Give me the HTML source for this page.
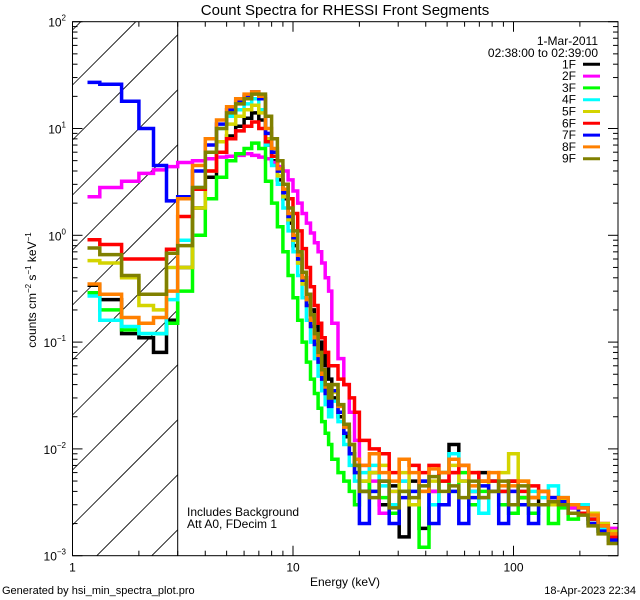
<!DOCTYPE html>
<html><head><meta charset="utf-8"><style>
html,body{margin:0;padding:0;background:#fff;width:640px;height:600px;overflow:hidden;}
svg{display:block;position:absolute;left:0;top:0;font-family:"Liberation Sans",sans-serif;}
script{display:none;}
</style></head><body>
<svg id="chart" width="640" height="600" viewBox="0 0 640 600" xmlns="http://www.w3.org/2000/svg">
<rect width="640" height="600" fill="#fff"/>
<defs><clipPath id="plotclip"><rect x="72.5" y="21.7" width="545.5" height="534"/></clipPath></defs>
<text x="345" y="15" font-size="15" text-anchor="middle">Count Spectra for RHESSI Front Segments</text>
<g id="hatch"></g>
<line x1="177.7" y1="21.7" x2="177.7" y2="555.7" stroke="#000" stroke-width="1"/>
<g id="series" clip-path="url(#plotclip)"></g>
<rect x="72.5" y="21.7" width="545.5" height="534" fill="none" stroke="#000" stroke-width="1"/>
<g id="axes"></g>
<text transform="translate(36,290) rotate(-90)" font-size="12" text-anchor="middle">counts cm<tspan font-size="8" dy="-5">−2</tspan><tspan dy="5"> s</tspan><tspan font-size="8" dy="-5">−1</tspan><tspan dy="5"> keV</tspan><tspan font-size="8" dy="-5">−1</tspan></text>
<text x="345" y="586" font-size="12" text-anchor="middle">Energy (keV)</text>
<text x="598" y="45" font-size="12" text-anchor="end">1-Mar-2011</text>
<text x="598" y="57" font-size="12" text-anchor="end">02:38:00 to 02:39:00</text>
<g id="legend"></g>
<text x="187" y="516" font-size="12">Includes Background</text>
<text x="187" y="528" font-size="12">Att A0, FDecim 1</text>
<text x="2" y="594" font-size="11">Generated by hsi_min_spectra_plot.pro</text>
<text x="636" y="594" font-size="11" text-anchor="end">18-Apr-2023 22:34</text>
</svg>
<script>
const edges=[1.17,1.33,1.67,2,2.33,2.67,3,3.5,4,4.5,5,5.5,6,6.5,7,7.5,8,8.5,9,9.5,10,10.5,11,11.5,12,12.5,13,13.5,14,14.5,15,16,17,18,19,20,22.2,24.6,27.3,30.3,33.6,37.3,41.4,45.9,51,56.5,62.7,69.6,77.2,85.7,95,105,117,130,144,160,177,197,218,242,269,298];
const names=["1F","2F","3F","4F","5F","6F","7F","8F","9F"];
const colors=["#000000","#ff00ff","#00ff00","#00ffff","#d4d400","#ff0000","#0000ff","#ff8000","#808000"];
const s1F=[0.34,0.25,0.12,0.11,0.08,0.16, 0.5,1.8,3.5,6,8.5,10.5,12.5,14,12,7,5,3.3,2.2,1.3,0.8,0.55,0.4,0.28,0.2,0.14,0.1,0.075,0.06,0.045, 0.03,0.02,0.013,0.009,0.007, .004,.006,.003,.0045,.0015,.005,.0018,.004,.006,.011,.005,.004,.006,.005,.004,.005,.0035,.0035,.003,.003,.003,.0028,.0025,.0022,.0018,.0015];
const s2F=[2.3,2.8,3.2,3.8,4.1,4.4, 4.8,5.0,5.2,5.4,5.5,5.6,5.8,5.6,5.4,5.2,4.8,4.4,4.0,3.3,2.6,2.0,1.6,1.3,1.05,0.85,0.7,0.55,0.4,0.3, 0.15,0.07,0.04,0.022,0.012, .007,.005,.0025,.004,.005,.003,.005,.004,.003,.006,.005,.004,.0035,.005,.004,.004,.003,.0035,.004,.003,.0032,.0028,.003,.0025,.002,.0018];
const s3F=[0.29,0.2,0.13,0.12,0.12,0.15, 0.3,1.0,2.2,3.5,5,5.8,6.5,7.3,6.5,3.2,2.0,1.2,0.7,0.42,0.26,0.16,0.1,0.065,0.045,0.033,0.024,0.018,0.014,0.011, 0.008,0.006,0.005,0.004,0.003, .005,.004,.0035,.0025,.004,.003,.0012,.003,.005,.004,.006,.003,.004,.005,.003,.0025,.0035,.0025,.003,.002,.0028,.0022,.0025,.002,.0017,.0014];
const s4F=[0.27,0.16,0.14,0.12,0.12,0.25, 0.9,2.8,6,10,13,15,17,19,15,7,4.5,3,1.8,1.1,0.7,0.42,0.26,0.16,0.1,0.07,0.048,0.035,0.026,0.02, 0.028,0.018,0.011,0.007,0.005, .006,.007,.0045,.003,.005,.004,.005,.003,.006,.009,.005,.004,.0025,.005,.004,.003,.004,.004,.0035,.0045,.0035,.0025,.003,.0022,.0018,.0014];
const s5F=[0.58,0.55,0.4,0.22,0.2,0.5, 0.5,1.8,4,7.5,11,13,15,16.5,14,8,5.5,3.6,2.3,1.4,0.9,0.55,0.35,0.22,0.14,0.095,0.065,0.045,0.034,0.026, 0.034,0.022,0.014,0.009,0.006, .005,.006,.007,.004,.006,.003,.004,.005,.006,.007,.005,.006,.005,.004,.006,.009,.005,.0035,.004,.003,.0033,.003,.0028,.0025,.002,.0017];
const s6F=[0.91,0.82,0.6,0.6,0.6,0.74, 1.5,2.7,4,6,8,9.5,10.5,11.5,10,7.5,5.5,4,3,2.2,1.6,1.1,0.75,0.5,0.33,0.22,0.15,0.11,0.08,0.06, 0.06,0.045,0.04,0.03,0.022, .012,.01,.009,.006,.008,.007,.006,.007,.005,.006,.007,.006,.005,.005,.004,.005,.004,.0045,.004,.0035,.003,.003,.0025,.0022,.0019,.0015];
const s7F=[27,26,18,10,4.5,2.1, 2.3,4,7,11,15,18,20,22,19,9,6,4,2.5,1.5,0.95,0.6,0.38,0.22,0.14,0.095,0.065,0.045,0.033,0.025, 0.035,0.022,0.014,0.009,0.006, .002,.004,.005,.002,.0035,.004,.005,.002,.003,.004,.002,.0035,.0045,.004,.002,.004,.003,.002,.003,.0035,.0032,.0025,.0028,.002,.0017,.0014];
const s8F=[0.35,0.28,0.17,0.15,0.17,0.3, 2.2,4.5,8,12,16,19,21,22,20,10,6.5,4.2,2.7,1.6,1.0,0.65,0.4,0.25,0.16,0.11,0.075,0.05,0.038,0.03, 0.04,0.025,0.016,0.011,0.008, .007,.009,.006,.005,.008,.006,.004,.0065,.006,.008,.007,.0045,.005,.006,.0045,.0045,.005,.0035,.004,.0032,.0035,.003,.0028,.0024,.0019,.0016];
const s9F=[0.76,0.66,0.42,0.28,0.28,0.68, 0.8,2.8,6,10,14,17,19,21,21,13,8,5,3,1.8,1.1,0.7,0.45,0.28,0.18,0.12,0.08,0.055,0.04,0.03, 0.04,0.026,0.017,0.011,0.007, .004,.0035,.005,.0028,.004,.0035,.0045,.0055,.004,.0045,.0035,.005,.0035,.004,.005,.003,.0045,.003,.003,.0032,.003,.0025,.0024,.0019,.0016,.0013];
const seriesData=[s1F,s2F,s3F,s4F,s5F,s6F,s7F,s8F,s9F];
const xTickLabels=["1","10","100"];
const yExps=[2,1,0,-1,-2,-3];

const X0=72.5,XD=220.5,Y0=21.7,YD=106.8,XR=618,YB=555.7,XH=177.7;
function xs(e){return X0+XD*Math.log10(e);}
function ys(v){return Y0+(2-Math.log10(v))*YD;}
const NS="http://www.w3.org/2000/svg";
function mk(t,a,p){const el=document.createElementNS(NS,t);for(const k in a)el.setAttribute(k,a[k]);p.appendChild(el);return el;}

// hatch lines, clipped manually to hatch box: y = c - (x - X0)
const hatch=document.getElementById('hatch');
for(let c=-80;c<700;c+=55){
  let xa=X0,ya=c,xb=XH,yb=c-(XH-X0);
  if(ya>YB){xa=X0+(c-YB);ya=YB;}
  if(yb<Y0){xb=X0+(c-Y0);yb=Y0;}
  if(xa>=xb||xa>XH||xb<X0)continue;
  const l=mk('line',{x1:xa.toFixed(1),y1:ya.toFixed(1),x2:xb.toFixed(1),y2:yb.toFixed(1),stroke:'#000','stroke-width':0.8},hatch);
  
  
}

const sg=document.getElementById('series');
seriesData.forEach((vals,i)=>{
  let d='M'+xs(edges[0]).toFixed(1)+' '+ys(vals[0]).toFixed(1);
  for(let j=0;j<vals.length;j++){
    if(j>0)d+=' V'+ys(vals[j]).toFixed(1);
    d+=' H'+xs(edges[j+1]).toFixed(1);
  }
  const p=mk('path',{d:d,fill:'none',stroke:colors[i],'stroke-width':3.5,'stroke-linejoin':'miter'},sg);
  
  
});

const ax=document.getElementById('axes');
for(let dec=0;dec<3;dec++){
  for(let m=1;m<10;m++){
    const e=m*Math.pow(10,dec);if(e>298)break;
    const x=xs(e),len=m===1?10:5;
    const t1=mk('line',{x1:x,y1:YB,x2:x,y2:YB-len,stroke:'#000'},ax);
    
    
    const t2=mk('line',{x1:x,y1:Y0,x2:x,y2:Y0+len,stroke:'#000'},ax);
    
    
  }
}
xTickLabels.forEach((s,i)=>{
  const t=mk('text',{x:xs(Math.pow(10,i)),y:YB+16,'font-size':12,'text-anchor':'middle'},ax);
  t.textContent=s;
  
  
});
for(let p=-3;p<=2;p++){
  for(let m=1;m<10;m++){
    if(p===2&&m>1)break;
    const y=ys(m*Math.pow(10,p)),len=m===1?10:5;
    const a=mk('line',{x1:X0,y1:y,x2:X0+len,y2:y,stroke:'#000'},ax);
    
    
    const b=mk('line',{x1:XR,y1:y,x2:XR-len,y2:y,stroke:'#000'},ax);
    
    
  }
}
yExps.forEach(p=>{
  const y=ys(Math.pow(10,p));
  const t=mk('text',{x:66,y:y+5,'font-size':12,'text-anchor':'end'},ax);
  
  
  const a=document.createElementNS(NS,'tspan');a.textContent='10';t.appendChild(a);
  const b=document.createElementNS(NS,'tspan');b.setAttribute('font-size','8');b.setAttribute('dy','-6');
  b.textContent=(p<0?'−':'')+Math.abs(p);t.appendChild(b);
});

const lg=document.getElementById('legend');
names.forEach((n,i)=>{
  const y=64.3+i*11.8;
  const t=mk('text',{x:576,y:y+4,'font-size':12,'text-anchor':'end'},lg);
  t.textContent=n;
  
  
  const l=mk('line',{x1:583,y1:y,x2:600,y2:y,stroke:colors[i],'stroke-width':3},lg);
  
  
});
</script>
</body></html>
